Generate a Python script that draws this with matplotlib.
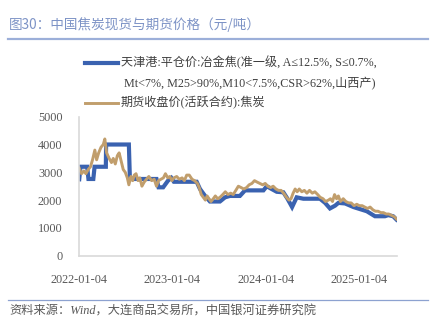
import matplotlib
matplotlib.use("Agg")
import matplotlib.pyplot as plt
import matplotlib.dates as mdates
import pandas as pd
from matplotlib.lines import Line2D

plt.rcParams['font.family'] = ['Liberation Serif', 'Noto Sans CJK SC', 'DejaVu Sans']

# 天津港 冶金焦 平仓价 (spot)
spot_dates = [
    "2022-01-05", "2022-01-10", "2022-02-05", "2022-02-10", "2022-03-01", "2022-03-06",
    "2022-04-19", "2022-04-20", "2022-07-18", "2022-07-22", "2022-11-03", "2022-11-11",
    "2022-11-29", "2022-12-18", "2022-12-31", "2023-01-10", "2023-04-09", "2023-04-22",
    "2023-05-12", "2023-05-31", "2023-07-09", "2023-07-29", "2023-08-17", "2023-09-25",
    "2023-10-15", "2023-12-26", "2024-01-08", "2024-01-27", "2024-02-16", "2024-03-13",
    "2024-03-29", "2024-04-16", "2024-05-04", "2024-05-30", "2024-08-03", "2024-08-23",
    "2024-09-11", "2024-10-01", "2024-10-14", "2024-11-09", "2024-12-12", "2025-02-02",
    "2025-03-06", "2025-04-14", "2025-04-27", "2025-05-16", "2025-05-29",
]
spot_price = [
    2750, 3200, 3200, 2760, 2760, 3200,
    3200, 4000, 4000, 2760, 2760, 2460,
    2460, 2700, 2800, 2660, 2660, 2400,
    2150, 1950, 1950, 2100, 2150, 2150,
    2350, 2350, 2500, 2400, 2300, 2280,
    2050, 1750, 2100, 2050, 2050, 1900,
    1700, 1800, 1900, 1880, 1750, 1600,
    1420, 1420, 1460, 1420, 1300,
]

# 期货收盘价(活跃合约):焦炭
fut_dates = [
    "2022-01-05", "2022-01-14", "2022-01-23", "2022-01-31", "2022-02-09", "2022-02-18",
    "2022-02-26", "2022-03-07", "2022-03-14", "2022-03-22", "2022-03-31", "2022-04-09",
    "2022-04-15", "2022-04-22", "2022-05-02", "2022-05-11", "2022-05-18", "2022-05-26",
    "2022-06-03", "2022-06-10", "2022-06-18", "2022-06-26", "2022-07-04", "2022-07-12",
    "2022-07-18", "2022-07-26", "2022-08-02", "2022-08-08", "2022-08-15", "2022-08-23",
    "2022-08-30", "2022-09-07", "2022-09-16", "2022-09-25", "2022-10-04", "2022-10-15",
    "2022-10-25", "2022-11-03", "2022-11-11", "2022-11-20", "2022-11-30", "2022-12-08",
    "2022-12-17", "2022-12-25", "2023-01-02", "2023-01-10", "2023-01-21", "2023-01-31",
    "2023-02-11", "2023-02-20", "2023-03-01", "2023-03-11", "2023-03-22", "2023-04-01",
    "2023-04-12", "2023-04-19", "2023-04-27", "2023-05-05", "2023-05-13", "2023-05-20",
    "2023-05-27", "2023-06-04", "2023-06-13", "2023-06-21", "2023-06-30", "2023-07-09",
    "2023-07-20", "2023-07-30", "2023-08-09", "2023-08-20", "2023-08-30", "2023-09-09",
    "2023-09-19", "2023-09-30", "2023-10-10", "2023-10-21", "2023-10-31", "2023-11-11",
    "2023-11-21", "2023-12-01", "2023-12-12", "2023-12-23", "2024-01-02", "2024-01-12",
    "2024-01-23", "2024-02-02", "2024-02-13", "2024-02-23", "2024-03-04", "2024-03-14",
    "2024-03-25", "2024-04-04", "2024-04-12", "2024-04-20", "2024-04-28", "2024-05-06",
    "2024-05-14", "2024-05-24", "2024-06-03", "2024-06-13", "2024-06-23", "2024-07-04",
    "2024-07-14", "2024-07-25", "2024-08-04", "2024-08-15", "2024-08-25", "2024-09-05",
    "2024-09-13", "2024-09-21", "2024-09-29", "2024-10-07", "2024-10-14", "2024-10-22",
    "2024-11-02", "2024-11-12", "2024-11-23", "2024-12-03", "2024-12-14", "2024-12-25",
    "2025-01-04", "2025-01-15", "2025-01-25", "2025-02-05", "2025-02-15", "2025-02-26",
    "2025-03-08", "2025-03-18", "2025-03-29", "2025-04-08", "2025-04-19", "2025-04-29",
    "2025-05-10", "2025-05-21", "2025-05-29",
]
fut_price = [
    3150, 2950, 3050, 2950, 3100, 3200,
    3450, 3800, 3450, 3700, 3900, 4000,
    4200, 3700, 3500, 3350, 3500, 3300,
    3600, 3700, 3400, 3100, 3000, 2800,
    2550, 2850, 2700, 2900, 2950, 2700,
    2800, 2500, 2650, 2750, 2850, 2700,
    2750, 2500, 2700, 2750, 2800, 2950,
    2800, 2850, 2700, 2800, 2850, 2750,
    2800, 2700, 2900, 2900, 2750, 2700,
    2600, 2450, 2200, 2100, 2000, 2150,
    2050, 1950, 2050, 2150, 2050, 2100,
    2200, 2300, 2200, 2250, 2200, 2350,
    2500, 2450, 2400, 2450, 2550, 2600,
    2700, 2650, 2600, 2550, 2600, 2500,
    2450, 2500, 2400, 2350, 2350, 2250,
    2100, 2000, 2050, 2250, 2400, 2300,
    2400, 2300, 2350, 2250, 2350, 2250,
    2300, 2200, 2100, 2050, 1950, 2000,
    2050, 1950, 2200, 2050, 2150, 1950,
    2050, 1950, 1900, 1900, 1800, 1850,
    1800, 1800, 1750, 1700, 1750, 1650,
    1600, 1600, 1550, 1550, 1500, 1500,
    1450, 1400, 1320,
]

tick_dates = ["2022-01-04", "2023-01-04", "2024-01-04", "2025-01-04"]
y_ticks = [0, 1000, 2000, 3000, 4000, 5000]

spot_label_1 = "天津港:平仓价:冶金焦(准一级, A≤12.5%, S≤0.7%,"
spot_label_2 = "Mt<7%, M25>90%,M10<7.5%,CSR>62%,山西产)"
fut_label = "期货收盘价(活跃合约):焦炭"

blue = "#3a62b0"
tan = "#c19e6c"
grey_txt = "#595959"

fig = plt.figure(figsize=(4.33, 3.26), dpi=100)
ax = fig.add_axes([0.1824, 0.2156, 0.7344, 0.4264])

ax.plot(pd.to_datetime(spot_dates), spot_price, color=blue, lw=3.0, solid_joinstyle="miter")
ax.plot(pd.to_datetime(fut_dates), fut_price, color=tan, lw=2.1)

ax.set_ylim(0, 5000)
ax.set_xlim(pd.Timestamp("2022-01-04"), pd.Timestamp("2025-05-31"))
ax.set_yticks(y_ticks)
ax.set_xticks(pd.to_datetime(tick_dates))
ax.xaxis.set_major_formatter(mdates.DateFormatter("%Y-%m-%d"))
ax.tick_params(length=0, labelsize=8.8, colors=grey_txt)
ax.tick_params(axis="y", pad=12)
ax.tick_params(axis="x", pad=13)
for s in ["top", "right"]:
    ax.spines[s].set_visible(False)
for s in ["left", "bottom"]:
    ax.spines[s].set_color("#d9d9d9")
    ax.spines[s].set_linewidth(1.2)

# title and rules
fig.text(9 / 433, 1 - 25 / 326, "图30：中国焦炭现货与期货价格（元/吨）",
         family=["Noto Sans CJK SC", "DejaVu Sans"], fontsize=9.8,
         color="#7d93c6", va="center", ha="left")
fig.add_artist(Line2D([8 / 433, 428 / 433], [1 - 39 / 326] * 2, color="#9cafd9", lw=1.6))
fig.add_artist(Line2D([8 / 433, 428 / 433], [1 - 299.5 / 326] * 2, color="#8da2d0", lw=0.9))
fig.text(9 / 433, 1 - 311.5 / 326, "资料来源：Wind，大连商品交易所，中国银河证券研究院",
         fontsize=8.8, style="italic", color=grey_txt, va="center", ha="left")

# legend
fig.add_artist(Line2D([85 / 433, 118 / 433], [1 - 63 / 326] * 2, color=blue, lw=3.0))
fig.add_artist(Line2D([85 / 433, 118 / 433], [1 - 103 / 326] * 2, color=tan, lw=2.1))
fig.text(121 / 433, 1 - 63 / 326, spot_label_1, fontsize=8.7, color="#404040", va="center")
fig.text(124 / 433, 1 - 84 / 326, spot_label_2, fontsize=8.7, color="#404040", va="center")
fig.text(121 / 433, 1 - 103 / 326, fut_label, fontsize=8.7, color="#404040", va="center")

fig.savefig("out.png", dpi=100)
